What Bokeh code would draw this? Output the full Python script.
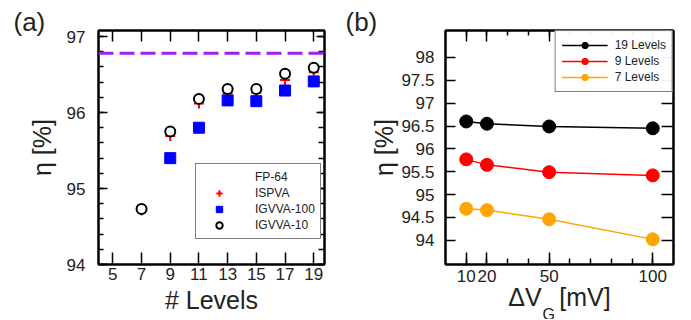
from bokeh.plotting import figure
from bokeh.layouts import row
from bokeh.models import (Span, Label, Legend, LegendItem, LinearAxis, FixedTicker, Range1d,
                          CustomLabelingPolicy)
from bokeh.embed import file_html
from bokeh.resources import INLINE

FONT = "Liberation Sans"
TXT = "#222222"

# ---------------- Panel (a) data ----------------
levels = [7, 9, 11, 13, 15, 17, 19]
fp64 = 96.78
ispva = [94.71, 95.69, 96.12, 96.25, 96.26, 96.43, 96.53]
igvva100_levels = [9, 11, 13, 15, 17, 19]
igvva100 = [95.40, 95.80, 96.16, 96.15, 96.29, 96.41]
igvva10 = [94.73, 95.75, 96.18, 96.31, 96.31, 96.51, 96.59]
xticks_a = [5, 7, 9, 11, 13, 15, 17, 19]
yticks_a = [94, 95, 96, 97]
yminor_a = [94 + 0.2 * i for i in range(16)]

# ---------------- Panel (b) data ----------------
dvg = [10, 20, 50, 100]
lv19 = [96.60, 96.55, 96.49, 96.45]
lv9 = [95.77, 95.65, 95.49, 95.42]
lv7 = [94.69, 94.66, 94.46, 94.02]
series_b = [("19 Levels", lv19, "black"), ("9 Levels", lv9, "red"), ("7 Levels", lv7, "orange")]
xticks_b = [10, 20, 50, 100]
xminor_b = [10, 20, 30, 40, 50, 60, 70, 80, 90, 100]
yticks_b = [94, 94.5, 95, 95.5, 96, 96.5, 97, 97.5, 98]
ylabels_b = ["94", "94.5", "95", "95.5", "96", "96.5", "97", "97.5", "98"]

NO_LABELS = """
try { for (const i of Array.from(indices)) { indices.unset(i) } } catch (e) {}
return indices
"""


def style_axis(ax, major_in, minor_in, labels=True, size="17px", standoff=5):
    ax.major_tick_in = major_in
    ax.major_tick_out = 0
    ax.minor_tick_in = minor_in
    ax.minor_tick_out = 0
    ax.axis_line_color = "black"
    ax.axis_line_width = 2
    ax.major_tick_line_width = 1.5
    ax.minor_tick_line_width = 1.5
    ax.major_label_text_font = FONT
    ax.major_label_text_color = TXT
    ax.major_label_standoff = standoff
    if labels:
        ax.major_label_text_font_size = size
    else:
        ax.major_label_text_font_size = "0px"
        ax.major_label_standoff = 0
        ax.major_label_policy = CustomLabelingPolicy(code=NO_LABELS)


def axis_title(ax, text, standoff):
    ax.axis_label = text
    ax.axis_label_text_font = FONT
    ax.axis_label_text_font_size = "25px"
    ax.axis_label_text_font_style = "normal"
    ax.axis_label_text_color = TXT
    ax.axis_label_standoff = standoff


def base_fig(width, height, xr, yr, bl, br, bt, bb):
    p = figure(width=width, height=height, x_range=Range1d(*xr), y_range=Range1d(*yr),
               output_backend="svg", toolbar_location=None,
               min_border_left=bl, min_border_right=br, min_border_top=bt, min_border_bottom=bb)
    p.xgrid.visible = False
    p.ygrid.visible = False
    p.outline_line_color = "black"
    p.outline_line_width = 2
    p.background_fill_color = "white"
    p.border_fill_color = "white"
    return p


def side_label(p, place, x, y, text, size, baseline="alphabetic"):
    p.add_layout(Label(x=x, y=y, x_units="screen", y_units="screen", text=text,
                       text_font=FONT, text_font_size=size, text_baseline=baseline,
                       text_color=TXT), place)


FIG_H = 319

# ================= Panel (a) =================
pa = base_fig(338, FIG_H, (4, 19.75), (94, 97.08), 98, 14, 0, 55)
xa = pa.xaxis[0]
ya = pa.yaxis[0]
xa.ticker = FixedTicker(ticks=xticks_a)
ya.ticker = FixedTicker(ticks=yticks_a, minor_ticks=yminor_a)
style_axis(xa, 12, 0, standoff=3)
style_axis(ya, 9, 5, standoff=13)
axis_title(ya, "η [%]", 8)
axis_title(xa, "# Levels", 3)

ra = LinearAxis(ticker=FixedTicker(ticks=yticks_a, minor_ticks=yminor_a))
style_axis(ra, 8, 6, labels=False)
pa.add_layout(ra, "right")
ta = LinearAxis(ticker=FixedTicker(ticks=xticks_a))
style_axis(ta, 11, 0, labels=False)
pa.add_layout(ta, "above")

pa.add_layout(Span(location=fp64, dimension="width", line_color="#a020f0",
                   line_width=3, line_dash="15 6"))
fp_leg = pa.line([], [], line_color="#a020f0", line_width=3, line_dash="15 6")
r_isp = pa.scatter(levels, ispva, marker="cross", size=10, line_color="red", line_width=2)
r_100 = pa.scatter(igvva100_levels, igvva100, marker="square", size=11,
                   fill_color="blue", line_color="blue", line_width=1)
r_10 = pa.scatter(levels, igvva10, marker="circle", size=10, fill_color="white",
                  line_color="black", line_width=2)

leg_a = Legend(items=[LegendItem(label="FP-64", renderers=[fp_leg]),
                      LegendItem(label="ISPVA", renderers=[r_isp]),
                      LegendItem(label="IGVVA-100", renderers=[r_100]),
                      LegendItem(label="IGVVA-10", renderers=[r_10])],
               location=(97, 25), padding=5, spacing=0, margin=0,
               glyph_width=36, glyph_height=16, label_height=16, label_standoff=18,
               label_text_font=FONT, label_text_font_size="12px",
               label_text_color=TXT,
               border_line_color="black", border_line_width=1.5,
               background_fill_alpha=1)
pa.add_layout(leg_a, "center")

side_label(pa, "above", -85, 24, "(a)", "26px", baseline="top")

# ================= Panel (b) =================
pb = base_fig(350, FIG_H, (0, 110), (93.47, 98.59), 107, 15, 0, 55)
xb = pb.xaxis[0]
yb = pb.yaxis[0]
xb.ticker = FixedTicker(ticks=xticks_b, minor_ticks=xminor_b)
yb.ticker = FixedTicker(ticks=yticks_b)
yb.major_label_overrides = {t: s for t, s in zip(yticks_b, ylabels_b)}
style_axis(xb, 12, 6, standoff=5)
style_axis(yb, 10, 0, standoff=11)
axis_title(yb, "η [%]", 0)
axis_title(xb, "ΔV\u2002\u2009[mV]", -2)

rb = LinearAxis(ticker=FixedTicker(ticks=yticks_b))
style_axis(rb, 12, 0, labels=False)
pb.add_layout(rb, "right")
tb = LinearAxis(ticker=FixedTicker(ticks=xticks_b, minor_ticks=xminor_b))
style_axis(tb, 11, 5, labels=False)
pb.add_layout(tb, "above")

items_b = []
for name, vals, col in series_b:
    l = pb.line(dvg, vals, line_color=col, line_width=1.5)
    s = pb.scatter(dvg, vals, marker="circle", size=13, fill_color=col, line_color=col)
    items_b.append(LegendItem(label=name, renderers=[l, s]))

leg_b = Legend(items=items_b, location="top_right", padding=6, spacing=0, margin=0,
               glyph_width=46, glyph_height=16, label_height=16, label_standoff=7,
               label_text_font=FONT, label_text_font_size="12px",
               label_text_color=TXT,
               border_line_color="black", border_line_width=1.5)
pb.add_layout(leg_b, "center")

side_label(pb, "above", -100, 24, "(b)", "26px", baseline="top")
# subscript G of the x-axis title, kept in the (roomy) left side panel
side_label(pb, "left", 187, -50, "G", "16px")

layout = row(pa, pb)
open("out.html", "w").write(file_html(layout, INLINE))
